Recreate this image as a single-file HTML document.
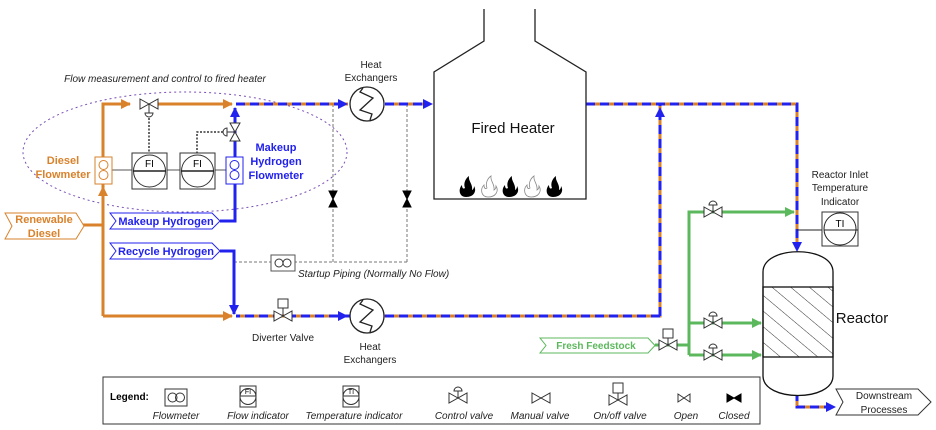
<!DOCTYPE html>
<html><head><meta charset="utf-8"><style>
body{margin:0;background:#fff}
svg{display:block;font-family:"Liberation Sans",sans-serif}
.it{font-style:italic}
</style></head><body>
<svg width="936" height="430" viewBox="0 0 936 430" xmlns="http://www.w3.org/2000/svg">
<defs>
<marker id="ao" markerWidth="10" markerHeight="10" refX="9" refY="5" orient="auto" markerUnits="userSpaceOnUse"><path d="M0,0 L10,5 L0,10 z" fill="#d9822b"/></marker>
<marker id="ab" markerWidth="10" markerHeight="10" refX="9" refY="5" orient="auto" markerUnits="userSpaceOnUse"><path d="M0,0 L10,5 L0,10 z" fill="#2222ee"/></marker>
<marker id="ag" markerWidth="10" markerHeight="10" refX="9" refY="5" orient="auto" markerUnits="userSpaceOnUse"><path d="M0,0 L10,5 L0,10 z" fill="#5cb85c"/></marker>
<pattern id="hatch" width="12" height="12" patternUnits="userSpaceOnUse" patternTransform="rotate(-50)"><line x1="0" y1="0" x2="0" y2="12" stroke="#333" stroke-width="1"/></pattern>
<g id="valve"><path d="M-9,-5 L9,5 L9,-5 L-9,5 Z" fill="#fff" stroke="#333" stroke-width="1"/></g>
<g id="vvalve"><path d="M-5,-9 L5,9 L-5,9 L5,-9 Z" fill="#fff" stroke="#333" stroke-width="1"/></g>
<g id="closed"><path d="M-4,-8 L4,8 L-4,8 L4,-8 Z" fill="#000" stroke="#000"/></g>
<g id="cv"><use href="#valve"/><line x1="0" y1="0" x2="0" y2="-7" stroke="#333"/><path d="M-4,-7 A4,4 0 0 1 4,-7 Z" fill="#fff" stroke="#333"/></g>
<g id="flame"><path d="M0,0 C-7,0 -8,-8 -4,-12 C-4,-8 -2,-8 -1,-9 C-3,-14 0,-19 3,-21 C2,-16 7,-13 6,-7 C8,-8 8,-10 8,-11 C11,-6 8,0 0,0 Z"/></g>
</defs>

<ellipse cx="185" cy="152" rx="162" ry="60" fill="none" stroke="#7a4fb5" stroke-width="1" stroke-dasharray="2 3"/>
<text x="165" y="82" font-size="10" class="it" text-anchor="middle" fill="#222">Flow measurement and control to fired heater</text>

<g stroke="#777" stroke-width="1" stroke-dasharray="3 2" fill="none">
<path d="M333,104 V262"/><path d="M407,104 V262"/><path d="M234,262 H407"/>
</g>
<use href="#closed" x="333" y="199"/><use href="#closed" x="407" y="199"/>
<rect x="271" y="255" width="24" height="16" fill="#fff" stroke="#555"/>
<circle cx="279" cy="263" r="4" fill="none" stroke="#333"/><circle cx="287" cy="263" r="4" fill="none" stroke="#333"/>
<text x="298" y="277" font-size="10" class="it" fill="#222">Startup Piping (Normally No Flow)</text>

<g stroke="#d9822b" stroke-width="3" fill="none">
<path d="M82,225 H103"/>
<path d="M103,316 V104 H130" marker-end="url(#ao)"/>
<path d="M158,104 H232" marker-end="url(#ao)"/>
<path d="M103,316 H232" marker-end="url(#ao)"/>
</g>
<path d="M98,196 L103,186 L108,196 Z" fill="#d9822b"/>
<use href="#valve" x="149" y="104"/>
<line x1="149" y1="104" x2="149" y2="113" stroke="#333"/><path d="M145,113 A4,4 0 0 0 153,113 Z" fill="#fff" stroke="#333"/>
<line x1="149" y1="118" x2="149" y2="154" stroke="#333" stroke-dasharray="2 1.5" stroke-width="1.5"/>

<g stroke="#2222ee" stroke-width="3" fill="none">
<path d="M220,221 H235 V108" marker-end="url(#ab)"/>
<path d="M220,251 H234 V314" marker-end="url(#ab)"/>
</g>
<use href="#vvalve" x="235" y="132"/>
<line x1="235" y1="132" x2="227" y2="132" stroke="#333"/><path d="M227,128 A4,4 0 0 0 227,136 Z" fill="#fff" stroke="#333"/>
<path d="M223,132 H197 V154" stroke="#333" stroke-dasharray="2 1.5" stroke-width="1.5" fill="none"/>

<line x1="110" y1="170" x2="226" y2="170" stroke="#555"/>
<g fill="#fff" stroke="#333">
<rect x="132" y="153" width="35" height="36"/><circle cx="149.5" cy="171" r="16"/>
<rect x="180" y="153" width="35" height="36"/><circle cx="197.5" cy="171" r="16"/>
</g>
<line x1="133" y1="171" x2="166" y2="171" stroke="#222" stroke-width="1.5"/>
<line x1="181" y1="171" x2="214" y2="171" stroke="#222" stroke-width="1.5"/>
<text x="149.5" y="167" font-size="10" text-anchor="middle">FI</text>
<text x="197.5" y="167" font-size="10" text-anchor="middle">FI</text>
<rect x="95" y="157" width="17" height="27" fill="#fff" stroke="#d9822b"/>
<circle cx="103.5" cy="165" r="4.5" fill="none" stroke="#d9822b"/><circle cx="103.5" cy="175" r="4.5" fill="none" stroke="#d9822b"/>
<rect x="226" y="157" width="17" height="27" fill="#fff" stroke="#2222ee"/>
<circle cx="234.5" cy="165" r="4.5" fill="none" stroke="#2222ee"/><circle cx="234.5" cy="175" r="4.5" fill="none" stroke="#2222ee"/>
<text font-size="11" font-weight="bold" fill="#d9822b" text-anchor="middle"><tspan x="63" y="164">Diesel</tspan><tspan x="63" y="178">Flowmeter</tspan></text>
<text font-size="11" font-weight="bold" fill="#2222ee" text-anchor="middle"><tspan x="276" y="151">Makeup</tspan><tspan x="276" y="165">Hydrogen</tspan><tspan x="276" y="179">Flowmeter</tspan></text>

<path d="M5,213 H76 L84,226 L76,239 H5 L12,226 Z" fill="#fff" stroke="#d9822b"/>
<text font-size="11" font-weight="bold" fill="#d9822b" text-anchor="middle"><tspan x="44" y="223">Renewable</tspan><tspan x="44" y="237">Diesel</tspan></text>
<path d="M110,213 H212 L220,221 L212,229 H110 L116,221 Z" fill="#fff" stroke="#2222ee"/>
<text x="166" y="225" font-size="11" font-weight="bold" fill="#2222ee" text-anchor="middle">Makeup Hydrogen</text>
<path d="M110,243 H212 L220,251 L212,259 H110 L116,251 Z" fill="#fff" stroke="#2222ee"/>
<text x="166" y="255" font-size="11" font-weight="bold" fill="#2222ee" text-anchor="middle">Recycle Hydrogen</text>

<g fill="none" stroke-width="3">
<path d="M236,104 H348 M385,104 H430 M586,104 H797 V245 M660,104 V316 H236 M797,392 V407 H830" stroke="#d9822b"/>
<path d="M236,104 H348 M385,104 H430 M586,104 H797 V245 M660,316 V104 M660,316 H236 M797,392 V407 H830" stroke="#2222ee" stroke-dasharray="9 5"/>
</g>
<path d="M338,99 L348,104 L338,109 Z" fill="#2222ee"/>
<path d="M423,99 L433,104 L423,109 Z" fill="#2222ee"/>
<path d="M655,117 L660,107 L665,117 Z" fill="#2222ee"/>
<path d="M792,242 L797,252 L802,242 Z" fill="#2222ee"/>
<path d="M826,402 L836,407 L826,412 Z" fill="#2222ee"/>
<path d="M338,311 L348,316 L338,321 Z" fill="#2222ee"/>

<use href="#valve" x="283" y="316"/>
<line x1="283" y1="316" x2="283" y2="308" stroke="#333"/><rect x="278" y="299" width="10" height="9" fill="#fff" stroke="#333"/>
<text x="283" y="341" font-size="10" text-anchor="middle" fill="#222">Diverter Valve</text>

<g fill="#fff" stroke="#222" stroke-width="1.3">
<circle cx="367" cy="104" r="17"/><circle cx="367" cy="316" r="17"/>
</g>
<g fill="none" stroke="#222" stroke-width="1.3">
<path d="M363,88 L360,92 L373,98 L360,110 L372,114 L370,120"/>
<path d="M363,300 L360,304 L373,310 L360,322 L372,326 L370,332"/>
</g>
<text font-size="10" text-anchor="middle" fill="#222"><tspan x="371" y="68">Heat</tspan><tspan x="371" y="81">Exchangers</tspan></text>
<text font-size="10" text-anchor="middle" fill="#222"><tspan x="370" y="350">Heat</tspan><tspan x="370" y="363">Exchangers</tspan></text>

<path d="M484,9 V41 L434,72 V199 H586 V72 L535,41 V9" fill="none" stroke="#222" stroke-width="1.3"/>
<text x="513" y="133" font-size="15" text-anchor="middle" fill="#111">Fired Heater</text>
<use href="#flame" x="466" y="197" fill="#000"/>
<use href="#flame" x="488" y="197" fill="#fff" stroke="#888" stroke-width="0.8"/>
<use href="#flame" x="509" y="197" fill="#000"/>
<use href="#flame" x="531" y="197" fill="#fff" stroke="#888" stroke-width="0.8"/>
<use href="#flame" x="553" y="197" fill="#000"/>

<g stroke="#5cb85c" stroke-width="3" fill="none">
<path d="M655,345 H689"/>
<path d="M689,355 V212 H794" marker-end="url(#ag)"/>
<path d="M689,323 H761" marker-end="url(#ag)"/>
<path d="M689,355 H761" marker-end="url(#ag)"/>
</g>
<use href="#cv" x="713" y="212"/><use href="#cv" x="713" y="323"/><use href="#cv" x="713" y="355"/>
<use href="#valve" x="668" y="345"/>
<line x1="668" y1="345" x2="668" y2="338" stroke="#333"/><rect x="663" y="329" width="10" height="9" fill="#fff" stroke="#333"/>
<path d="M540,338 H648 L655,345.5 L648,353 H540 L546,345.5 Z" fill="#fff" stroke="#5cb85c"/>
<text x="596" y="349" font-size="10" font-weight="bold" fill="#5cb85c" text-anchor="middle">Fresh Feedstock</text>

<path d="M763,272 C763,245 833,245 833,272 V376 C833,402 763,402 763,376 Z" fill="#fff" stroke="#111" stroke-width="1.3"/>
<rect x="763" y="287" width="70" height="70" fill="url(#hatch)" stroke="#111" stroke-width="1.3"/>
<text x="862" y="323" font-size="15" text-anchor="middle" fill="#111">Reactor</text>

<line x1="797" y1="230" x2="858" y2="230" stroke="#222" stroke-width="1"/>
<rect x="822" y="212" width="36" height="34" fill="#fff" stroke="#333"/>
<circle cx="840" cy="229" r="16" fill="#fff" stroke="#222"/>
<line x1="824" y1="230" x2="858" y2="230" stroke="#222"/>
<text x="840" y="227" font-size="10" text-anchor="middle">TI</text>
<text font-size="10" text-anchor="middle" fill="#222"><tspan x="840" y="178">Reactor Inlet</tspan><tspan x="840" y="191">Temperature</tspan><tspan x="840" y="205">Indicator</tspan></text>

<path d="M836,389 H918 L931,402 L918,415 H836 L843,402 Z" fill="#fff" stroke="#333"/>
<text font-size="10" text-anchor="middle" fill="#222"><tspan x="884" y="399">Downstream</tspan><tspan x="884" y="413">Processes</tspan></text>

<!-- legend -->
<rect x="103" y="377" width="657" height="47" fill="#fff" stroke="#333"/>
<text x="110" y="400" font-size="10" font-weight="bold">Legend:</text>
<rect x="165" y="389" width="22" height="17" fill="#fff" stroke="#333"/>
<circle cx="172.5" cy="397.5" r="4.5" fill="none" stroke="#333"/><circle cx="180" cy="397.5" r="4.5" fill="none" stroke="#333"/>
<rect x="240" y="386" width="16" height="21" fill="#fff" stroke="#333"/><circle cx="248" cy="396.5" r="8" fill="none" stroke="#333"/><line x1="240" y1="396" x2="256" y2="396" stroke="#333"/>
<text x="248" y="394" font-size="7" text-anchor="middle">FI</text>
<rect x="343" y="386" width="16" height="21" fill="#fff" stroke="#333"/><circle cx="351" cy="396.5" r="8" fill="none" stroke="#333"/><line x1="343" y1="396" x2="359" y2="396" stroke="#333"/>
<text x="351" y="394" font-size="7" text-anchor="middle">TI</text>
<use href="#cv" x="458" y="398"/>
<use href="#valve" x="541" y="398"/>
<use href="#valve" x="618" y="400"/><line x1="618" y1="400" x2="618" y2="393" stroke="#333"/><rect x="613" y="383" width="10" height="10" fill="#fff" stroke="#333"/>
<path d="M678,394 L690,402 L690,394 L678,402 Z" fill="#fff" stroke="#333"/>
<path d="M727,394 L741,402 L741,394 L727,402 Z" fill="#000" stroke="#000"/>
<g font-size="10" class="it" text-anchor="middle" fill="#222">
<text x="176" y="419">Flowmeter</text><text x="258" y="419">Flow indicator</text><text x="354" y="419">Temperature indicator</text>
<text x="464" y="419">Control valve</text><text x="540" y="419">Manual valve</text><text x="620" y="419">On/off valve</text>
<text x="686" y="419">Open</text><text x="734" y="419">Closed</text>
</g>
</svg>
</body></html>
